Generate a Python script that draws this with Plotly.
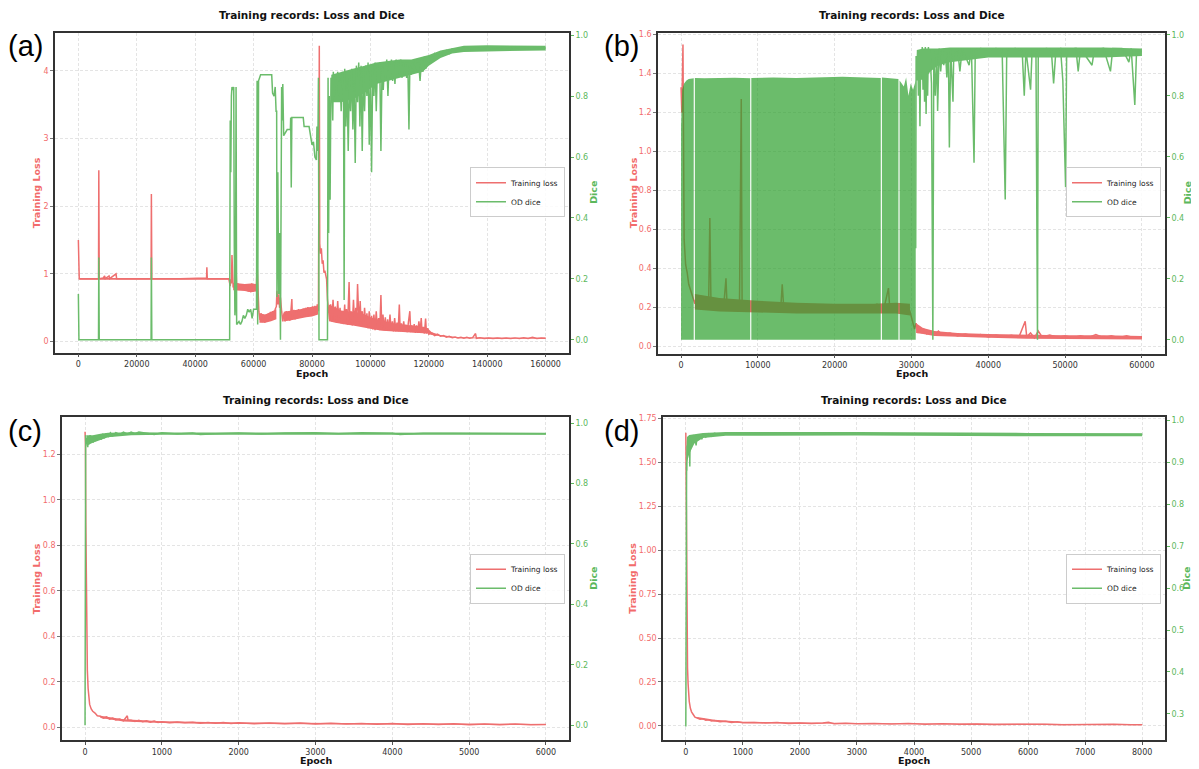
import plotly.graph_objects as go

# ---------------- data ----------------
# Panel (a)
a_loss = [(0,1.50),(300,0.93),(6900,0.93),(7000,2.53),(7150,0.93),(8500,0.94),(9000,0.97),(9200,0.93),
 (10500,0.97),(10700,0.93),(12900,1.00),(13100,0.93),(24900,0.93),(25000,2.18),(25150,0.93),(35000,0.93),
 (43900,0.94),(44000,1.10),(44150,0.93),(51500,0.93),
 (51800,0.88),(52000,0.82),(52200,0.92),(52400,0.86),(52600,1.28),(52800,0.90),(53000,0.80),(53300,0.86),
 (53600,0.82),(54000,1.10),(54200,0.80),(54600,0.86),(55000,0.79),(55400,0.85),(55800,0.78),(56200,0.84),
 (56600,0.77),(57000,0.83),(57400,0.76),(57800,0.85),(58200,0.74),(58600,0.82),(59000,0.73),(59400,0.86),
 (59800,0.74),(60200,0.84),(60600,0.75),(61000,0.85),(61200,1.15),(61500,0.80),(61800,0.45),
 (62200,0.32),(62600,0.42),(63000,0.29),(63400,0.38),(63800,0.28),(64200,0.40),(64600,0.30),(65000,0.41),
 (65400,0.31),(65800,0.44),(66200,0.33),(66600,0.45),(67000,0.36),(67400,0.48),(67800,0.52),(68000,0.75),
 (68300,0.55),(68600,0.70),(68900,0.50),(69200,0.65),(69600,0.45),(70000,0.30),
 (70400,0.42),(70800,0.30),(71200,0.45),(71600,0.32),(72000,0.44),(72400,0.31),(72800,0.46),(73100,0.63),
 (73300,0.33),(73800,0.47),(74200,0.33),(74600,0.46),(75000,0.34),(75400,0.48),(75800,0.35),(76200,0.47),
 (76600,0.36),(77000,0.49),(77400,0.37),(77800,0.50),(78200,0.38),(78600,0.51),(79000,0.39),(79400,0.50),
 (79800,0.40),(80200,0.52),(80600,0.39),(81000,0.53),(81400,0.40),(81800,0.55),(82200,0.45),
 (82500,4.37),(82650,1.45),(82900,1.30),(83200,1.38),(83500,1.15),(83800,1.20),(84100,1.02),(84400,1.05),
 (84700,0.95),(85000,0.92),(85300,0.62),(85600,0.50),
 (86000,0.33),(86400,0.55),(86800,0.30),(87200,0.62),(87600,0.32),(88000,0.52),(88400,0.28),(88800,0.60),
 (89200,0.30),(89600,0.50),(90000,0.27),(90400,0.45),(90800,0.26),(91200,0.55),(91400,0.30),(91800,0.48),
 (92200,0.25),(92700,0.88),(93000,0.28),(93400,0.45),(93800,0.24),(94200,0.62),(94600,0.26),(95000,0.50),
 (95300,0.30),(95600,0.85),(96100,0.24),(96500,0.60),(96800,0.28),(97200,0.45),(97600,0.22),(98000,0.50),
 (98400,0.22),(98800,0.42),(99200,0.20),(99600,0.45),(100000,0.20),
 (100400,0.38),(100800,0.18),(101200,0.40),(101600,0.17),(102000,0.45),(102400,0.18),(102800,0.35),
 (103200,0.17),(103600,0.69),(103900,0.18),(104300,0.40),(104700,0.17),(105100,0.36),(105500,0.16),
 (105900,0.33),(106300,0.16),(106700,0.40),(107100,0.16),(107500,0.30),(107900,0.15),(108300,0.35),
 (108700,0.15),(109100,0.28),(109500,0.15),(109900,0.55),(110200,0.15),(110600,0.27),(111000,0.15),
 (111400,0.30),(111800,0.15),(112200,0.25),(112600,0.14),(113000,0.28),(113500,0.45),(113800,0.14),
 (114200,0.24),(114600,0.14),(115000,0.26),(115400,0.13),(115800,0.24),(116200,0.13),(116600,0.30),
 (117000,0.13),(117400,0.35),(117700,0.13),(118100,0.22),(118500,0.12),(118900,0.34),(119200,0.12),
 (119600,0.20),(120000,0.11),
 (121000,0.13),(122000,0.09),(123000,0.11),(124000,0.08),(125000,0.09),(126000,0.065),(127000,0.08),
 (128000,0.06),(129000,0.07),(130000,0.055),(131000,0.065),(132000,0.05),(133000,0.065),(134000,0.05),
 (135000,0.06),(136000,0.12),(136300,0.05),(137500,0.058),(139000,0.047),(140500,0.056),(142000,0.047),
 (143500,0.056),(145000,0.047),(146500,0.056),(148000,0.047),(149500,0.056),(151000,0.046),(152500,0.056),
 (154000,0.046),(155500,0.066),(157000,0.047),(158500,0.056),(160000,0.05)]

# noisy envelope of the loss curve (epoch, low, high)
a_loss_band = [
 [(300,0.915,0.94),(51500,0.915,0.94)],
 [(53000,0.76,0.87),(55000,0.76,0.86),(57000,0.75,0.85),(59000,0.73,0.86),(60900,0.74,0.85)],
 [(62000,0.28,0.42),(64000,0.28,0.40),(66000,0.30,0.44),(67800,0.33,0.48)],
 [(70300,0.30,0.44),(72000,0.31,0.45),(74000,0.32,0.46),(76000,0.34,0.48),(78000,0.36,0.50),
  (80000,0.37,0.52),(82100,0.40,0.53)],
 [(85800,0.30,0.55),(88000,0.28,0.50),(90000,0.26,0.46),(92000,0.25,0.45),(94000,0.24,0.44),
  (96000,0.23,0.43),(98000,0.21,0.40),(100000,0.19,0.36),(104000,0.16,0.31),(108000,0.15,0.27),
  (112000,0.14,0.25),(116000,0.13,0.23),(119500,0.12,0.20),(121000,0.10,0.14),(124000,0.075,0.10),
  (127000,0.06,0.08),(130000,0.05,0.066),(135000,0.045,0.06),(145000,0.043,0.058),(160000,0.043,0.058)]]

a_dice = [(0,0.15),(200,0.0),(6900,0.0),(7000,0.27),(7150,0.0),(24900,0.0),(25000,0.27),(25150,0.0),
 (51800,0.0),(52000,0.72),(52200,0.55),(52400,0.80),(52600,0.83),(52900,0.82),(53200,0.83),(53400,0.30),
 (53600,0.08),(53800,0.12),(54000,0.83),(54200,0.05),(55000,0.06),(55500,0.05),(56000,0.06),(56500,0.08),
 (57000,0.07),(57500,0.08),(58000,0.10),(58500,0.09),(59000,0.10),(59500,0.07),(60000,0.10),(61000,0.10),
 (61200,0.85),(61400,0.05),(61700,0.85),(62000,0.86),(62400,0.87),(66200,0.87),(66500,0.81),(67000,0.80),
 (67400,0.83),(67700,0.75),(67900,0.75),(68000,0.14),(68300,0.55),(68600,0.15),(68900,0.35),(69200,0.0),
 (69400,0.30),(69600,0.83),(69800,0.72),(70000,0.84),(70300,0.67),(71000,0.68),(71500,0.69),(72600,0.69),
 (72700,0.73),(72900,0.50),(73100,0.73),(77000,0.73),(77300,0.70),(79000,0.70),(79500,0.66),(80000,0.64),
 (80500,0.65),(81000,0.60),(81500,0.59),(81700,0.70),(82000,0.62),(82200,0.86),(82400,0.0),(85300,0.0),
 (85500,0.86),(85700,0.35),(85900,0.80),(86200,0.46),(86500,0.86),(86800,0.85),(87100,0.72),(87300,0.88),
 (87600,0.80),(88000,0.86),(88400,0.83),(88800,0.88),(89200,0.80),(89600,0.86),(90000,0.75),(90400,0.88),
 (90800,0.82),(91000,0.13),(91200,0.89),(91600,0.70),(92000,0.85),(92400,0.62),(92800,0.86),(93200,0.75),
 (93600,0.89),(94000,0.69),(94400,0.85),(94800,0.58),(95200,0.90),(95600,0.78),(96000,0.91),(96400,0.70),
 (96800,0.90),(97200,0.62),(97600,0.89),(98000,0.75),(98400,0.90),(98800,0.80),(99200,0.91),(99600,0.64),
 (100000,0.88),(100400,0.55),(100800,0.90),(101200,0.80),(101600,0.91),(102000,0.75),(102400,0.90),
 (102800,0.85),(103200,0.91),(103600,0.62),(104000,0.90),(104400,0.82),(104800,0.91),(105200,0.86),
 (105600,0.92),(106000,0.80),(106400,0.91),(106800,0.86),(107200,0.92),(107600,0.85),(108000,0.91),
 (108400,0.84),(108800,0.92),(109200,0.86),(109600,0.91),(110000,0.87),(110400,0.92),(110800,0.86),
 (111200,0.91),(111600,0.87),(112000,0.91),(112400,0.86),(112800,0.91),(113200,0.69),(113500,0.90),
 (114000,0.87),(114500,0.91),(115000,0.88),(115500,0.92),(116000,0.88),(116500,0.91),(117000,0.85),
 (117500,0.92),(118000,0.88),(118500,0.93),(119000,0.89),(119500,0.93),(120000,0.91),(120500,0.93),
 (121000,0.92),(122000,0.94),(123000,0.93),(124000,0.945),(125000,0.935),(126000,0.95),(127000,0.94),
 (128000,0.955),(130000,0.95),(132000,0.958),(134000,0.955),(136000,0.958),(138000,0.956),(140000,0.96),
 (143000,0.957),(146000,0.96),(149000,0.957),(152000,0.96),(155000,0.956),(158000,0.959),(160000,0.958)]

a_dice_band = [
 [(86600,0.78,0.87),(90000,0.78,0.88),(94000,0.79,0.89),(98000,0.81,0.90),(102000,0.84,0.91),
  (106000,0.85,0.915),(110000,0.86,0.92),(114000,0.87,0.92),(118000,0.88,0.93),(120000,0.90,0.935),
  (124000,0.925,0.95),(128000,0.94,0.958),(132000,0.945,0.965),(140000,0.948,0.967),(150000,0.948,0.966),
  (160000,0.95,0.965)]]

# Panel (b)
b_loss = [(0,1.33),(100,1.20),(250,1.55),(300,1.10),(400,0.55),(600,0.42),(800,0.38),(1000,0.32),
 (1300,0.28),(1600,0.25),(1800,0.22),(2000,0.26),(2400,0.21),(2800,0.25),(3200,0.21),(3600,0.24),
 (3750,0.66),(3900,0.21),(4400,0.21),(4800,0.24),(5200,0.20),(5600,0.23),(5850,0.35),(6000,0.20),
 (6400,0.23),(6800,0.19),(7200,0.22),(7600,0.19),(7840,1.27),(7950,0.19),(8200,0.23),(8600,0.19),
 (9000,0.22),(9400,0.18),(9800,0.22),(10200,0.18),(10600,0.22),(11000,0.18),(11400,0.21),(11800,0.18),
 (12200,0.22),(12600,0.18),(13000,0.21),(13170,0.32),(13400,0.18),(13800,0.21),(14200,0.18),(14600,0.21),
 (15000,0.18),(15500,0.21),(16000,0.18),(16500,0.21),(17000,0.18),(17500,0.21),(18000,0.18),(18500,0.21),
 (19000,0.18),(19500,0.21),(20000,0.18),(20500,0.21),(21000,0.18),(21500,0.21),(22000,0.18),(22500,0.21),
 (23000,0.18),(23500,0.21),(24000,0.18),(24500,0.21),(25000,0.18),(25500,0.22),(26000,0.18),(26500,0.21),
 (27000,0.30),(27200,0.18),(27600,0.22),(28000,0.18),(28500,0.22),(29000,0.19),(29500,0.21),(29800,0.18),
 (30000,0.15),(30200,0.12),(30400,0.09),(30600,0.12),(30800,0.07),(31000,0.10),(31300,0.07),(31600,0.09),
 (32000,0.065),(32500,0.08),(33000,0.06),(33500,0.08),(34000,0.06),(35000,0.07),(36000,0.055),
 (37000,0.065),(38000,0.055),(39000,0.062),(40000,0.05),(41000,0.06),(42000,0.05),(43000,0.058),
 (44000,0.05),(44800,0.13),(45000,0.05),(45500,0.07),(46000,0.045),(46500,0.08),(47000,0.05),
 (48000,0.06),(49000,0.047),(50000,0.056),(51000,0.046),(52000,0.056),(53000,0.046),(54000,0.062),
 (55000,0.046),(56000,0.056),(57000,0.046),(58000,0.056),(59000,0.046),(60000,0.05)]

b_loss_band = [
 [(1800,0.19,0.27),(5000,0.18,0.25),(10000,0.175,0.235),(15000,0.17,0.225),(20000,0.17,0.22),
  (25000,0.17,0.22),(28000,0.17,0.225),(29800,0.16,0.22)],
 [(30600,0.07,0.12),(31500,0.065,0.095),(33000,0.055,0.08),(36000,0.05,0.07),(40000,0.045,0.065),
  (45000,0.04,0.06),(50000,0.038,0.058),(55000,0.037,0.058),(60000,0.037,0.055)]]

# dense 0 <-> 0.86 oscillation region of the (b) dice curve: (epoch, low, high) per segment
b_dice_osc = [
 [(0,0.0,0.70),(150,0.0,0.82),(400,0.0,0.84),(700,0.0,0.85),(1000,0.0,0.855),(1650,0.0,0.857)],
 [(1800,0.0,0.858),(3000,0.0,0.857),(5000,0.0,0.858),(7000,0.0,0.859),(9000,0.0,0.857)],
 [(9150,0.0,0.858),(12000,0.0,0.86),(15000,0.0,0.858),(18000,0.0,0.86),(21000,0.0,0.862),(24000,0.0,0.86),
  (26000,0.0,0.858)],
 [(26150,0.0,0.86),(28300,0.0,0.855)],
 [(28450,0.0,0.85),(29000,0.0,0.83),(29300,0.0,0.86),(29600,0.0,0.80),(29900,0.0,0.84),(30200,0.0,0.82),
  (30550,0.0,0.85)]]

b_dice = [(30550,0.30),(30600,0.93),(30700,0.85),(30800,0.95),(30900,0.80),(31000,0.94),(31100,0.70),
 (31200,0.95),(31300,0.88),(31400,0.96),(31500,0.82),(31600,0.95),(31700,0.78),(31800,0.96),(31900,0.74),
 (32000,0.95),(32100,0.80),(32200,0.96),(32300,0.88),(32400,0.95),(32600,0.84),(32780,0.0),(32900,0.95),
 (33100,0.80),(33300,0.94),(33400,0.75),(33600,0.955),(33800,0.88),(34000,0.95),(34200,0.90),(34400,0.955),
 (34600,0.86),(34800,0.95),(34930,0.63),(35100,0.95),(35400,0.78),(35500,0.94),(36000,0.955),(36300,0.88),
 (36600,0.955),(37500,0.90),(37800,0.955),(38140,0.58),(38300,0.95),(39000,0.955),(40000,0.95),
 (41000,0.955),(41800,0.95),(42200,0.46),(42400,0.95),(43500,0.955),(44400,0.95),(44680,0.80),
 (44900,0.95),(45500,0.82),(45700,0.95),(46200,0.95),(46400,0.0),(46500,0.95),(47600,0.955),(48200,0.95),
 (48500,0.84),(48800,0.95),(49400,0.955),(49700,0.85),(50060,0.50),(50200,0.95),(51400,0.955),
 (51700,0.88),(52000,0.955),(53500,0.90),(53800,0.95),(55000,0.955),(55900,0.88),(56200,0.955),
 (57400,0.955),(58300,0.91),(58600,0.955),(59070,0.77),(59300,0.95),(60000,0.945)]

b_dice_band = [
 [(30700,0.86,0.95),(31500,0.85,0.955),(32500,0.88,0.955),(33500,0.90,0.955),(35000,0.91,0.958),
  (40000,0.925,0.958),(45000,0.925,0.958),(50000,0.925,0.958),(55000,0.925,0.958),(60000,0.93,0.955)]]

# Panel (c)
c_loss = [(0,1.30),(5,1.25),(10,0.90),(15,0.60),(20,0.40),(30,0.25),(40,0.17),(50,0.13),(60,0.10),
 (80,0.08),(100,0.07),(130,0.062),(160,0.05),(200,0.048),(240,0.04),(280,0.045),(320,0.035),(360,0.04),
 (400,0.032),(450,0.036),(500,0.028),(550,0.05),(560,0.03),(600,0.03),(650,0.025),(700,0.03),(750,0.024),
 (800,0.028),(850,0.022),(900,0.027),(950,0.021),(1000,0.024),(1100,0.019),(1200,0.023),(1300,0.019),
 (1400,0.022),(1500,0.017),(1600,0.021),(1700,0.017),(1800,0.02),(1900,0.016),(2000,0.019),(2200,0.015),
 (2400,0.018),(2600,0.015),(2800,0.018),(3000,0.014),(3200,0.017),(3400,0.014),(3600,0.016),(3800,0.013),
 (4000,0.016),(4200,0.012),(4400,0.015),(4600,0.012),(4800,0.015),(5000,0.011),(5200,0.014),(5400,0.011),
 (5600,0.014),(5800,0.011),(6000,0.012)]
c_loss_band = [[(200,0.04,0.05),(500,0.025,0.035),(1000,0.018,0.026),(2000,0.014,0.021),
  (4000,0.011,0.017),(6000,0.009,0.014)]]

c_dice = [(0,0.0),(8,0.96),(15,0.93),(25,0.95),(35,0.92),(45,0.95),(55,0.93),(65,0.96),(75,0.94),
 (90,0.955),(105,0.935),(120,0.955),(135,0.94),(150,0.96),(170,0.945),(190,0.96),(210,0.945),(230,0.965),
 (250,0.95),(275,0.965),(300,0.955),(330,0.968),(360,0.958),(400,0.968),(450,0.962),(500,0.97),
 (550,0.963),(600,0.97),(650,0.965),(700,0.97),(800,0.966),(900,0.962),(1000,0.968),(1200,0.964),
 (1400,0.967),(1500,0.962),(1700,0.965),(2000,0.967),(2300,0.964),(2600,0.967),(3000,0.968),(3300,0.965),
 (3600,0.968),(4000,0.966),(4100,0.962),(4400,0.966),(4800,0.966),(5200,0.965),(5600,0.965),(6000,0.965)]
c_dice_band = [[(20,0.925,0.96),(100,0.935,0.96),(200,0.945,0.965),(300,0.953,0.968),(600,0.96,0.97),
  (1000,0.961,0.969),(6000,0.961,0.968)]]

# Panel (d)
d_loss = [(0,1.67),(5,1.40),(10,1.00),(15,0.70),(20,0.50),(30,0.33),(40,0.24),(50,0.18),(60,0.14),
 (80,0.10),(100,0.08),(130,0.065),(160,0.05),(200,0.045),(250,0.038),(300,0.04),(350,0.032),(400,0.035),
 (450,0.028),(500,0.03),(600,0.024),(700,0.026),(800,0.02),(900,0.023),(1000,0.018),(1200,0.02),
 (1400,0.016),(1600,0.019),(1800,0.014),(2000,0.017),(2200,0.013),(2400,0.016),(2500,0.02),(2600,0.012),
 (2800,0.015),(3000,0.012),(3300,0.014),(3600,0.011),(3900,0.013),(4200,0.010),(4500,0.012),(4800,0.009),
 (5100,0.011),(5400,0.008),(5700,0.01),(6000,0.008),(6300,0.01),(6600,0.007),(6900,0.009),(7200,0.007),
 (7500,0.009),(7800,0.006),(8000,0.007)]
d_loss_band = [[(200,0.04,0.05),(500,0.025,0.035),(1000,0.016,0.024),(2000,0.012,0.019),
  (4000,0.009,0.014),(8000,0.005,0.01)]]

d_dice = [(0,0.27),(3,0.50),(6,0.75),(10,0.85),(14,0.90),(18,0.88),(22,0.94),(26,0.92),(30,0.95),
 (35,0.96),(40,0.93),(45,0.96),(50,0.955),(55,0.92),(60,0.96),(65,0.95),(70,0.89),(75,0.96),(85,0.945),
 (95,0.965),(110,0.95),(125,0.965),(140,0.955),(160,0.96),(180,0.94),(200,0.965),(220,0.955),(250,0.967),
 (280,0.955),(310,0.968),(350,0.96),(400,0.968),(450,0.962),(500,0.969),(600,0.966),(700,0.969),
 (1000,0.968),(1400,0.969),(1800,0.968),(2200,0.969),(2600,0.968),(3000,0.969),(3400,0.968),(3800,0.968),
 (4200,0.968),(4600,0.967),(5000,0.966),(5400,0.966),(5800,0.967),(6200,0.966),(6600,0.966),(7000,0.966),
 (7400,0.966),(7800,0.966),(8000,0.966)]
d_dice_band = [[(20,0.90,0.96),(60,0.92,0.965),(150,0.945,0.967),(300,0.958,0.97),(700,0.963,0.972),
  (3000,0.964,0.972),(6000,0.962,0.97),(8000,0.962,0.969)]]

panel_labels = ["(a)", "(b)", "(c)", "(d)"]
title_text = "Training records: Loss and Dice"
x_title = "Epoch"
loss_title = "Training Loss"
dice_title = "Dice"
loss_name = "Training loss"
dice_name = "OD dice"

x_ticks = [list(range(0, 160001, 20000)), list(range(0, 60001, 10000)),
           list(range(0, 6001, 1000)), list(range(0, 8001, 1000))]
loss_ticks = [[0, 1, 2, 3, 4], [0, 0.2, 0.4, 0.6, 0.8, 1.0, 1.2, 1.4, 1.6],
              [0, 0.2, 0.4, 0.6, 0.8, 1.0, 1.2], [0, 0.25, 0.5, 0.75, 1.0, 1.25, 1.5, 1.75]]
dice_ticks = [[0, 0.2, 0.4, 0.6, 0.8, 1.0], [0, 0.2, 0.4, 0.6, 0.8, 1.0],
              [0, 0.2, 0.4, 0.6, 0.8, 1.0], [0.3, 0.4, 0.5, 0.6, 0.7, 0.8, 0.9, 1.0]]

# ---------------- styling / layout ----------------
PAGE_W, PAGE_H = 1199, 769
OX, OY = 8, 10                     # page offset of the plot div (body margin)
W, H = PAGE_W - OX, PAGE_H - OY
def px(x): return (x - OX) / W
def py(y): return 1 - (y - OY) / H

RED_LINE = "#ee6f6f"
GREEN_LINE = "#6bbc6b"
GREEN_ALPHA = "rgba(44,160,44,0.7)"
RED_TXT = "#f26b6b"
GREEN_TXT = "#5cb85c"
FRAME = "#333333"
GRID = "#e4e4e4"
FONT = "DejaVu Sans"

# page-pixel boxes of the four axes: (left, right, top, bottom)
boxes = [(55, 569, 32, 353), (658, 1165, 32, 354), (62, 569, 418, 742), (663, 1165, 418, 742)]
loss_title_x = [36.5, 633, 36.5, 633]
dice_title_x = [594, 1187, 594, 1187]
x_ranges = [[-8000, 168000], [-3000, 63000], [-300, 6300], [-400, 8400]]
loss_ranges = [[-0.162, 4.559], [-0.036, 1.609], [-0.057, 1.3635], [-0.081, 1.7574]]
dice_ranges = [[-0.0425, 1.0075], [-0.0457, 1.006], [-0.0494, 1.0188], [0.2375, 1.007]]
loss_fmt = ["d", ".1f", ".1f", ".2f"]

loss_data = [a_loss, b_loss, c_loss, d_loss]
dice_data = [a_dice, b_dice, c_dice, d_dice]
loss_bands = [a_loss_band, b_loss_band, c_loss_band, d_loss_band]
dice_bands = [a_dice_band, b_dice_band, c_dice_band, d_dice_band]


def band_polygon(segments):
    bx, by = [], []
    for seg in segments:
        xs = [p[0] for p in seg]
        lo = [p[1] for p in seg]
        hi = [p[2] for p in seg]
        bx += xs + xs[::-1] + [None]
        by += hi + lo[::-1] + [None]
    return bx, by


fig = go.Figure()
layout = dict(width=W, height=H, margin=dict(l=0, r=0, t=0, b=0),
              paper_bgcolor="white", plot_bgcolor="white",
              font=dict(family=FONT, size=8, color="#333"), annotations=[])

for i in range(4):
    L, R, T, B = boxes[i]
    xn = "x" if i == 0 else f"x{i+1}"
    yl = "y" if i == 0 else f"y{2*i+1}"
    yd = f"y{2*i+2}"
    xkey = "xaxis" if i == 0 else f"xaxis{i+1}"
    ylkey = "yaxis" if i == 0 else f"yaxis{2*i+1}"
    ydkey = f"yaxis{2*i+2}"
    leg = "legend" if i == 0 else f"legend{i+1}"

    layout[xkey] = dict(domain=[px(L), px(R)], range=x_ranges[i], anchor=yl,
                        tickvals=x_ticks[i], tickformat="d", ticks="outside", ticklen=3,
                        tickcolor="#555", tickfont=dict(size=8, color="#333", family=FONT),
                        showline=True, mirror=True, linecolor=FRAME, linewidth=1.6,
                        showgrid=True, gridcolor=GRID, griddash="3px,2px", gridwidth=0.8,
                        zeroline=False)
    layout[ylkey] = dict(domain=[py(B), py(T)], range=loss_ranges[i], anchor=xn, side="left",
                         tickvals=loss_ticks[i], tickformat=loss_fmt[i], ticks="outside", ticklen=3,
                         tickcolor="#777", tickfont=dict(size=8, color=RED_TXT, family=FONT),
                         showline=True, linecolor=FRAME, linewidth=1.6,
                         showgrid=True, gridcolor=GRID, griddash="3px,2px", gridwidth=0.8,
                         zeroline=False)
    layout[ydkey] = dict(overlaying=yl, anchor=xn, side="right", range=dice_ranges[i],
                         tickvals=dice_ticks[i], tickformat=".1f", ticks="outside", ticklen=3,
                         tickcolor=GREEN_TXT, tickfont=dict(size=8, color=GREEN_TXT, family=FONT),
                         showline=True, linecolor=FRAME, linewidth=1.6,
                         showgrid=False, zeroline=False)
    layout[leg] = dict(x=px(R - 4), y=py(192 if i < 2 else 580), xanchor="right", yanchor="middle",
                       bgcolor="rgba(255,255,255,0.85)", bordercolor="#cccccc", borderwidth=1,
                       font=dict(size=7.5, family=FONT, color="#222"), tracegroupgap=0,
                       itemwidth=30)

    # loss: noisy envelope + curve
    bx, by = band_polygon(loss_bands[i])
    fig.add_trace(go.Scatter(x=bx, y=by, mode="lines", fill="toself", fillcolor=RED_LINE,
                             line=dict(width=0, color=RED_LINE), showlegend=False, hoverinfo="skip",
                             xaxis=xn, yaxis=yl))
    lx, ly = zip(*loss_data[i])
    fig.add_trace(go.Scatter(x=list(lx), y=list(ly), mode="lines", name=loss_name,
                             line=dict(color=RED_LINE, width=1.5), xaxis=xn, yaxis=yl, legend=leg))
    # dice: (b) dense oscillation block, noisy envelope + curve
    if i == 1:
        ox_, oy_ = band_polygon(b_dice_osc)
        fig.add_trace(go.Scatter(x=ox_, y=oy_, mode="lines", fill="toself", fillcolor=GREEN_ALPHA,
                                 line=dict(width=0, color=GREEN_ALPHA), showlegend=False,
                                 hoverinfo="skip", xaxis=xn, yaxis=yd))
    bx, by = band_polygon(dice_bands[i])
    fig.add_trace(go.Scatter(x=bx, y=by, mode="lines", fill="toself", fillcolor=GREEN_LINE,
                             line=dict(width=0, color=GREEN_LINE), showlegend=False, hoverinfo="skip",
                             xaxis=xn, yaxis=yd))
    dx, dy = zip(*dice_data[i])
    fig.add_trace(go.Scatter(x=list(dx), y=list(dy), mode="lines", name=dice_name,
                             line=dict(color=GREEN_LINE, width=1.5), xaxis=xn, yaxis=yd, legend=leg))

    cx = (L + R) / 2
    ann = layout["annotations"]
    ann.append(dict(text=f"<b>{title_text}</b>", x=px(cx), y=py(14 if i < 2 else 401),
                    xref="paper", yref="paper", showarrow=False, xanchor="center", yanchor="middle",
                    font=dict(size=10.5, family=FONT, color="#111")))
    ann.append(dict(text=f"<b>{x_title}</b>", x=px(cx), y=py(374 if i < 2 else 762),
                    xref="paper", yref="paper", showarrow=False, xanchor="center", yanchor="middle",
                    font=dict(size=9.5, family=FONT, color="#111")))
    ann.append(dict(text=f"<b>{loss_title}</b>", x=px(loss_title_x[i]),
                    y=py((T + B) / 2), textangle=-90,
                    xref="paper", yref="paper", showarrow=False, xanchor="center", yanchor="middle",
                    font=dict(size=9.5, family=FONT, color=RED_TXT)))
    ann.append(dict(text=f"<b>{dice_title}</b>", x=px(dice_title_x[i]), y=py((T + B) / 2), textangle=-90,
                    xref="paper", yref="paper", showarrow=False, xanchor="center", yanchor="middle",
                    font=dict(size=9.5, family=FONT, color=GREEN_TXT)))
    ann.append(dict(text=panel_labels[i], x=px(25 if i in (0, 2) else 621), y=py(45 if i < 2 else 432),
                    xref="paper", yref="paper", showarrow=False, xanchor="center", yanchor="middle",
                    font=dict(size=29, family="Liberation Sans", color="#000")))

fig.update_layout(**layout)
fig.write_html("out.html")
